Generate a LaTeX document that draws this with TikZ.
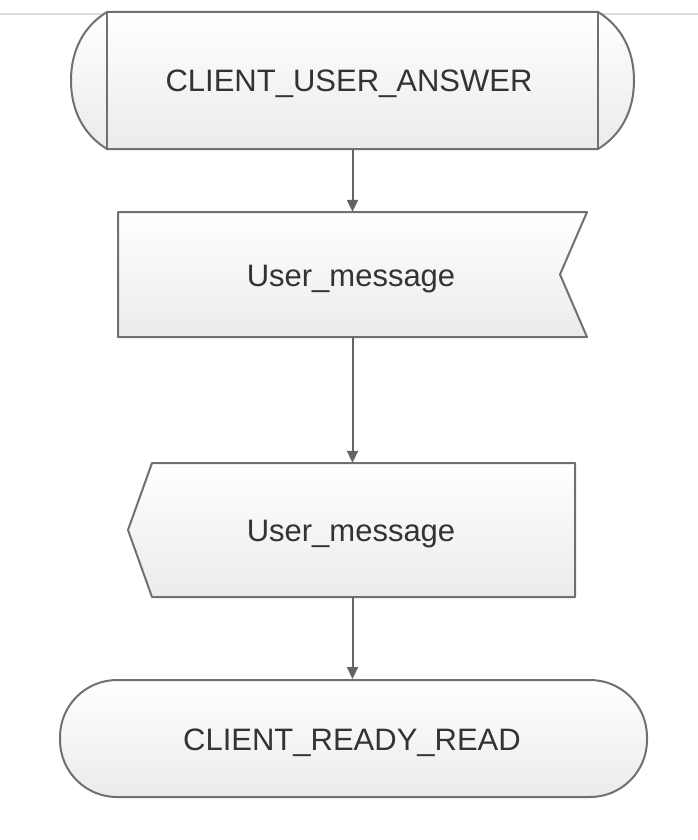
\documentclass[tikz,border=0pt]{standalone}
\usepackage{fontspec}
\setmainfont{Liberation Sans}
\usetikzlibrary{arrows.meta}
\definecolor{edgegray}{HTML}{707070}
\definecolor{arrowgray}{HTML}{646464}
\definecolor{txtgray}{HTML}{333333}
\definecolor{fillbot}{HTML}{EBEBEB}
\definecolor{linegray}{HTML}{DCDCDC}
\tikzset{
  shapefill/.style={top color=white, bottom color=fillbot, draw=edgegray, line width=2pt, line join=round},
  label/.style={inner sep=0pt, anchor=base, text=txtgray, font=\fontsize{31}{37}\selectfont},
  conn/.style={draw=arrowgray, line width=2pt, -{Triangle[width=11pt,length=12pt]}},
}
\begin{document}
\begin{tikzpicture}[x=1pt,y=-1pt]
\useasboundingbox (0,0) rectangle (698,840);
\fill[white] (0,0) rectangle (698,840);
\draw[linegray, line width=1.5pt] (0,14) -- (698,14);
% start: CLIENT_USER_ANSWER
\path[shapefill] (107,12) -- (598,12) .. controls (621,26) and (634,50) .. (634,80.5)
  .. controls (634,111) and (621,135) .. (598,149) -- (107,149)
  .. controls (84,135) and (71,111) .. (71,80.5)
  .. controls (71,50) and (84,26) .. (107,12) -- cycle;
\node[draw=edgegray, line width=2pt, minimum width=491pt, minimum height=137pt, inner sep=0pt] (start) at (352.5,80.5) {};
\node[label] (startlbl) at (349,92) {CLIENT\_USER\_ANSWER};
% receive: User_message (notch on right)
\path[shapefill] (118,212) -- (587,212) -- (560,274.5) -- (587,337) -- (118,337) -- cycle;
\node[minimum width=469pt, minimum height=125pt, inner sep=0pt] (msg1) at (352.5,274.5) {};
\node[label] (msg1lbl) at (351,286) {User\_message};
% send: User_message (point on left)
\path[shapefill] (152,463) -- (575,463) -- (575,597) -- (152,597) -- (128,530) -- cycle;
\node[minimum width=447pt, minimum height=134pt, inner sep=0pt] (msg2) at (352.5,530) {};
\node[label] (msg2lbl) at (351,541) {User\_message};
% end: CLIENT_READY_READ
\node[shapefill, rounded corners=57pt, minimum width=587pt, minimum height=117pt, inner sep=0pt] (finish) at (353.5,738.5) {};
\node[label] (finishlbl) at (352,750) {CLIENT\_READY\_READ};
% connectors
\draw[conn] (start.south) -- (msg1.north);
\draw[conn] (msg1.south) -- (msg2.north);
\draw[conn] (msg2.south) -- (msg2.south |- finish.north);
\end{tikzpicture}
\end{document}
